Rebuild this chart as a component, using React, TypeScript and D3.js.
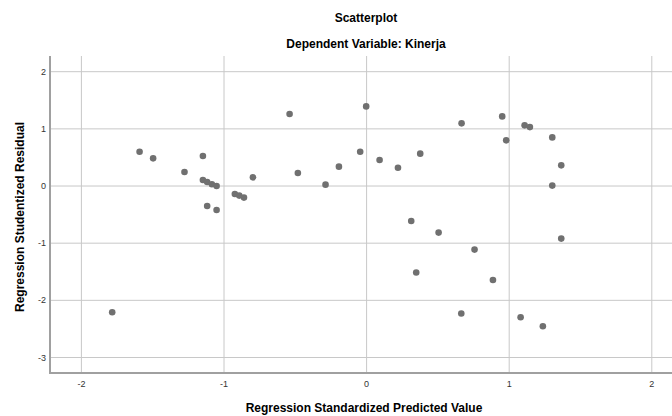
import React from 'react';
import { scaleLinear } from 'd3';

const predicted = [
  -1.592, -1.497, -1.277, -1.148, -1.148, -1.118, -1.085, -1.052, -1.118, -1.052,
  -0.924, -0.893, -0.860, -0.797, -0.540, -0.482, -0.288, -0.194, -0.045, -0.003,
  0.091, 0.220, 0.376, 0.313, 0.505, 0.666, 0.951, 0.979, 1.108, 1.145,
  1.302, 1.365, 1.302, 0.757, 1.365, 0.348, 0.886, 0.664, 1.080, 1.236,
  -1.784,
];
const residual = [
  0.600, 0.484, 0.245, 0.525, 0.105, 0.070, 0.030, 0.000, -0.350, -0.420,
  -0.140, -0.168, -0.203, 0.152, 1.259, 0.227, 0.024, 0.339, 0.600, 1.393,
  0.455, 0.320, 0.566, -0.612, -0.815, 1.096, 1.218, 0.799, 1.061, 1.031,
  0.851, 0.362, 0.007, -1.112, -0.920, -1.514, -1.643, -2.231, -2.295, -2.453,
  -2.208,
];
const xTicks = [-2, -1, 0, 1, 2];
const yTicks = [2, 1, 0, -1, -2, -3];

const W = 672;
const H = 416;
const left = 50;
const bottom = 373;
const top = 56;
const font = 'Arial, "Liberation Sans", sans-serif';

const App: React.FC = () => {
  const x = scaleLinear().domain([-2, 2]).range([81.4, 651.8]);
  const y = scaleLinear().domain([2, -3]).range([71.7, 357.5]);

  return (
    <svg width={W} height={H} style={{ position: 'absolute', left: 0, top: 0, background: '#fff' }}>
      <text x={366} y={22} textAnchor="middle" fontFamily={font} fontSize={12} fontWeight="bold" fill="#000">Scatterplot</text>
      <text x={366} y={48} textAnchor="middle" fontFamily={font} fontSize={12} fontWeight="bold" fill="#000">Dependent Variable: Kinerja</text>

      {xTicks.map(t => (
        <line key={'gx' + t} x1={x(t)} x2={x(t)} y1={top} y2={bottom} stroke="#c8c8c8" strokeWidth={1} />
      ))}
      {yTicks.map(t => (
        <line key={'gy' + t} x1={left} x2={W} y1={y(t)} y2={y(t)} stroke="#c8c8c8" strokeWidth={1} />
      ))}

      <line x1={left} x2={left} y1={top} y2={bottom + 1} stroke="#a0a0a0" strokeWidth={2} />
      <line x1={left - 1} x2={W} y1={bottom} y2={bottom} stroke="#a0a0a0" strokeWidth={2} />

      {yTicks.map(t => (
        <text key={'ty' + t} x={left - 4} y={y(t) + 3} textAnchor="end" fontFamily={font} fontSize={9} fill="#333">{t}</text>
      ))}
      {xTicks.map(t => (
        <text key={'tx' + t} x={x(t)} y={bottom + 14} textAnchor="middle" fontFamily={font} fontSize={9} fill="#333">{t}</text>
      ))}

      {predicted.map((p, i) => (
        <circle key={i} cx={x(p)} cy={y(residual[i])} r={3.3} fill="#707070" />
      ))}

      <text x={364} y={412} textAnchor="middle" fontFamily={font} fontSize={12} fontWeight="bold" fill="#000">Regression Standardized Predicted Value</text>
      <text transform={`translate(24,${217}) rotate(-90)`} textAnchor="middle" fontFamily={font} fontSize={12} fontWeight="bold" fill="#000">Regression Studentized Residual</text>
    </svg>
  );
};

export default App;
